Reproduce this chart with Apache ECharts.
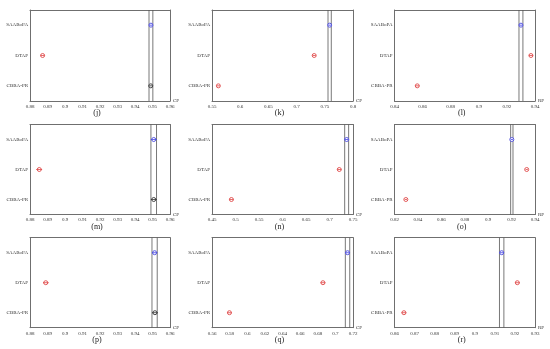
<!DOCTYPE html>
<html>
<head>
<meta charset="utf-8">
<script src="https://cdn.jsdelivr.net/npm/echarts@6/dist/echarts.min.js"></script>
<style>html,body{margin:0;padding:0;background:#fff}#c{width:550px;height:349px}</style>
</head>
<body>
<div id="c"></div>
<script>
// ---- data ----
const panelLabels = ['(j)', '(k)', '(l)', '(m)', '(n)', '(o)', '(p)', '(q)', '(r)'];
const axisNames = ['CP', 'CP', 'RP', 'CP', 'CP', 'RP', 'CP', 'CP', 'RP'];
const xMins = [0.88, 0.55, 0.84, 0.88, 0.45, 0.82, 0.88, 0.56, 0.86];
const xMaxs = [0.96, 0.80, 0.94, 0.96, 0.75, 0.94, 0.96, 0.72, 0.93];
const xSteps = [0.01, 0.05, 0.02, 0.01, 0.05, 0.02, 0.01, 0.02, 0.01];
const methods = ['CBBA-PR', 'DTAP', 'SAABoPA'];
const cbbaMeans = [0.9490, 0.5613, 0.8562, 0.9507, 0.4913, 0.8297, 0.9514, 0.5798, 0.8647];
const dtapMeans = [0.8872, 0.7312, 0.9371, 0.8853, 0.7208, 0.9329, 0.8890, 0.6859, 0.9212];
const saabMeans = [0.9491, 0.7586, 0.9300, 0.9507, 0.7365, 0.9202, 0.9512, 0.7138, 0.9134];
const halfWidths = [0.0011, 0.0029, 0.0014, 0.0016, 0.0042, 0.0010, 0.0015, 0.0025, 0.0011];

// ---- layout ----
const colLeft = [30, 212, 394.5];
const colWidth = [140, 141, 140.5];
const rowTop = [10, 124.5, 237.7];
const rowHeight = [91, 90, 90];

const RED = '#e04848', BLUE = '#4848e0', BLACK = '#333333';
const FONT = '"Liberation Serif", "Times New Roman", serif';
const frameColor = '#6f6f6f';

const grids = [], xAxes = [], yAxes = [], series = [], graphics = [];

for (let i = 0; i < 9; i++) {
  const r = Math.floor(i / 3), c = i % 3;
  grids.push({ left: colLeft[c], top: rowTop[r], width: colWidth[c], height: rowHeight[r] });
  const axLine = { show: true, onZero: false, lineStyle: { color: frameColor, width: 1 } };
  xAxes.push({
    type: 'value', gridIndex: i, min: xMins[i], max: xMaxs[i], interval: xSteps[i],
    axisLine: axLine, splitLine: { show: false },
    axisTick: { inside: true, length: 2, lineStyle: { color: frameColor } },
    axisLabel: { fontSize: 5, fontFamily: FONT, color: '#333', margin: 3, hideOverlap: false, showMinLabel: true, showMaxLabel: true },
    name: axisNames[i], nameLocation: 'end', nameGap: 3,
    nameTextStyle: { fontSize: 5, fontFamily: FONT, color: '#333', padding: [0, 0, 4, 0] }
  });
  xAxes.push({
    type: 'value', gridIndex: i, position: 'top', min: xMins[i], max: xMaxs[i], interval: xSteps[i],
    axisLine: axLine, splitLine: { show: false },
    axisTick: { inside: true, length: 2, lineStyle: { color: frameColor } },
    axisLabel: { show: false }
  });
  yAxes.push({
    type: 'category', gridIndex: i, data: methods,
    axisLine: axLine,
    axisTick: { inside: true, length: 2, alignWithLabel: true, lineStyle: { color: frameColor } },
    axisLabel: { fontSize: 5, fontFamily: FONT, color: '#333', margin: 2 }
  });
  yAxes.push({
    type: 'category', gridIndex: i, data: methods, position: 'right',
    axisLine: axLine,
    axisTick: { inside: true, length: 2, alignWithLabel: true, lineStyle: { color: frameColor } },
    axisLabel: { show: false }
  });

  const hw = halfWidths[i];
  const s = saabMeans[i];
  const colorFor = (m) => (Math.abs(m - s) < 2 * hw ? BLACK : RED);
  const pts = [
    { value: [cbbaMeans[i], 0, hw], color: colorFor(cbbaMeans[i]) },
    { value: [dtapMeans[i], 1, hw], color: colorFor(dtapMeans[i]) },
    { value: [s, 2, hw], color: BLUE }
  ];
  series.push({
    type: 'custom', xAxisIndex: 2 * i, yAxisIndex: 2 * i, silent: true, clip: false,
    data: pts.map(p => p.value),
    renderItem: function (params, api) {
      const x = api.value(0), y = api.value(1), h = api.value(2);
      const col = pts[params.dataIndex].color;
      const p0 = api.coord([x - h, y]), p1 = api.coord([x + h, y]), pc = api.coord([x, y]);
      const children = [];
      if (params.dataIndex === 2) {
        const cs = params.coordSys;
        [p0[0], p1[0]].forEach(function (vx) {
          children.push({ type: 'line', z2: 1, shape: { x1: vx, y1: cs.y, x2: vx, y2: cs.y + cs.height }, style: { stroke: '#555', lineWidth: 0.8 } });
        });
      }
      children.push({ type: 'line', z2: 5, shape: { x1: p0[0], y1: p0[1], x2: p1[0], y2: p1[1] }, style: { stroke: col, lineWidth: 0.8 } });
      children.push({ type: 'circle', z2: 5, shape: { cx: pc[0], cy: pc[1], r: 2 }, style: { stroke: col, fill: '#ffffff', lineWidth: 0.9 } });
      children.push({ type: 'line', z2: 6, shape: { x1: p0[0], y1: p0[1], x2: p1[0], y2: p1[1] }, style: { stroke: col, lineWidth: 0.8 } });
      return { type: 'group', children: children };
    }
  });

  graphics.push({
    type: 'text', x: colLeft[c] + colWidth[c] / 2 - 3, y: rowTop[r] + rowHeight[r] + 12,
    style: { text: panelLabels[i], font: '8px ' + FONT, fill: '#222', textAlign: 'center', textVerticalAlign: 'middle' }
  });
}

const chart = echarts.init(document.getElementById('c'), null, { renderer: 'canvas' });
chart.setOption({
  animation: false,
  backgroundColor: '#ffffff',
  grid: grids, xAxis: xAxes, yAxis: yAxes, series: series, graphic: graphics
});
</script>
</body>
</html>
